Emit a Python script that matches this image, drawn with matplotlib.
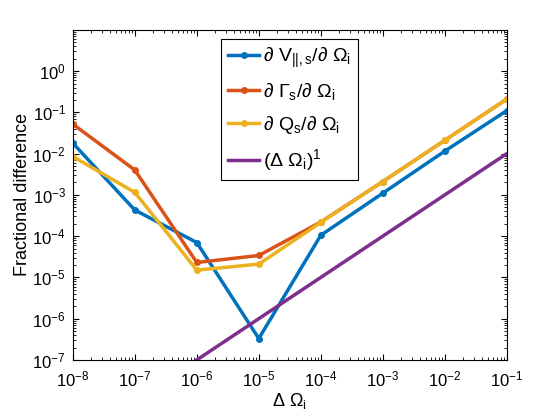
import matplotlib.pyplot as plt
import numpy as np

plt.rcParams['font.family'] = ['Liberation Sans', 'DejaVu Sans']
plt.rcParams['mathtext.fontset'] = 'custom'
plt.rcParams['mathtext.rm'] = 'Liberation Sans'
plt.rcParams['mathtext.it'] = 'Liberation Sans'
plt.rcParams['mathtext.sf'] = 'Liberation Sans'

# step sizes and fractional differences
dx = [1e-8, 1e-7, 1e-6, 1e-5, 1e-4, 1e-3, 1e-2, 1e-1]
dV = [1.8e-2, 4.3e-4, 7.0e-5, 3.3e-7, 1.05e-4, 1.1e-3, 1.15e-2, 1.1e-1]
dG = [5.2e-2, 4.0e-3, 2.3e-5, 3.4e-5, 2.2e-4, 2.1e-3, 2.1e-2, 2.1e-1]
dQ = [8.5e-3, 1.15e-3, 1.5e-5, 2.1e-5, 2.15e-4, 2.1e-3, 2.1e-2, 2.1e-1]
ref_x = [1e-8, 1e-1]
ref_y = [1e-9, 1e-2]

fig = plt.figure(figsize=(5.6, 4.2), dpi=100)
ax = fig.add_axes([0.13, 0.143, 0.775, 0.786])

ax.loglog(dx, dV, '.-', color='#0072BD', lw=2.5, ms=8,
          label=r'$\partial$ V$_{||,s}$/$\partial$ $\Omega_{\rm i}$')
ax.loglog(dx, dG, '.-', color='#D95319', lw=2.5, ms=8,
          label=r'$\partial$ $\Gamma_{\rm s}$/$\partial$ $\Omega_{\rm i}$')
ax.loglog(dx, dQ, '.-', color='#EDB120', lw=2.5, ms=8,
          label=r'$\partial$ Q$_{\rm s}$/$\partial$ $\Omega_{\rm i}$')
ax.loglog(ref_x, ref_y, '-', color='#7E2F8E', lw=2.5,
          label=r'($\Delta$ $\Omega_{\rm i}$)$^1$')

ax.set_xlim(1e-8, 1e-1)
ax.set_ylim(1e-7, 1e1)
ax.set_xticks([1e-8, 1e-7, 1e-6, 1e-5, 1e-4, 1e-3, 1e-2, 1e-1])
ax.set_yticks([1e-7, 1e-6, 1e-5, 1e-4, 1e-3, 1e-2, 1e-1, 1e0])
ax.tick_params(which='both', direction='in', top=True, right=True, labelsize=12)
ax.tick_params(axis='x', which='major', pad=7)
ax.tick_params(axis='y', which='major', pad=5)
ax.tick_params(which='major', length=4)
ax.tick_params(which='minor', length=2)
for s in ax.spines.values():
    s.set_linewidth(0.8)

ax.set_xlabel(r'$\Delta$ $\Omega_{\rm i}$', fontsize=13, labelpad=1)
ax.set_ylabel('Fractional difference', fontsize=13, labelpad=1)

leg = ax.legend(loc='upper center', fontsize=14, fancybox=False, framealpha=1,
                edgecolor='black', handlelength=1.6, handletextpad=0.2,
                borderpad=0.35, labelspacing=0.6, borderaxespad=0.45)
leg.get_frame().set_linewidth(0.8)

fig.savefig('out.png', dpi=100)
